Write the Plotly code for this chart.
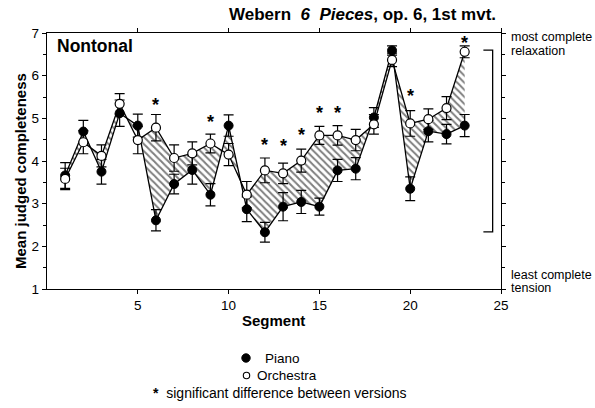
import plotly.graph_objects as go

segments = list(range(1, 24))
piano = [3.66, 4.69, 3.75, 5.12, 4.83, 2.61, 3.46, 3.79, 3.21, 4.83, 2.87, 2.33,
         2.93, 3.04, 2.93, 3.78, 3.82, 5.02, 6.59, 3.35, 4.70, 4.63, 4.83]
piano_err = [0.30, 0.26, 0.29, 0.31, 0.27, 0.25, 0.23, 0.33, 0.26, 0.25, 0.29, 0.23,
             0.33, 0.27, 0.20, 0.26, 0.26, 0.23, 0.11, 0.28, 0.25, 0.23, 0.26]
orchestra = [3.58, 4.44, 4.12, 5.34, 4.49, 4.78, 4.07, 4.18, 4.41, 4.15, 3.21, 3.78,
             3.71, 4.01, 4.60, 4.60, 4.49, 4.86, 6.37, 4.88, 4.98, 5.24, 6.56]
orch_err = [0.25, 0.27, 0.26, 0.24, 0.32, 0.31, 0.31, 0.27, 0.22, 0.26, 0.31, 0.29,
            0.24, 0.27, 0.21, 0.23, 0.25, 0.23, 0.16, 0.30, 0.24, 0.27, 0.14]
star_segments = [6, 9, 12, 13, 14, 15, 16, 20, 23]
star_y = [5.43, 5.03, 4.49, 4.47, 4.73, 5.24, 5.24, 5.64, 6.88]
x_ticks = [5, 10, 15, 20, 25]
y_ticks = [1, 2, 3, 4, 5, 6, 7]
bracket_x = [24.03, 24.54]
bracket_y = [2.34, 6.60]

FONT = "Liberation Sans, Arial, sans-serif"
W, H = 595, 408
ML, MR, MT, MB = 47, 94, 33, 119
PW, PH = W - ML - MR, H - MT - MB


def px(x):
    return (x - ML) / PW


def py(y):
    return (H - MB - y) / PH


fig = go.Figure()

fig.add_trace(go.Scatter(
    x=segments, y=piano, mode="lines+markers", name="Piano",
    line=dict(color="black", width=1.3),
    marker=dict(symbol="circle", size=9, color="black", line=dict(color="black", width=1)),
    error_y=dict(type="data", array=piano_err, color="black", thickness=1.2, width=5),
))
fig.add_trace(go.Scatter(
    x=segments, y=orchestra, mode="lines+markers", name="Orchestra",
    fill="tonexty", fillcolor="white",
    fillpattern=dict(shape="\\", size=5, solidity=0.4, fgcolor="black", bgcolor="white"),
    line=dict(color="black", width=1.3),
    marker=dict(symbol="circle", size=9, color="white", line=dict(color="black", width=1.2)),
    error_y=dict(type="data", array=orch_err, color="black", thickness=1.2, width=5),
))

for sx, sy in zip(star_segments, star_y):
    fig.add_annotation(x=sx, y=sy, text="<b>*</b>", showarrow=False, yshift=-5,
                       font=dict(family=FONT, size=18, color="black"))

# right bracket
fig.add_shape(type="path", xref="x", yref="y",
              path=f"M {bracket_x[0]},{bracket_y[1]} L {bracket_x[1]},{bracket_y[1]} "
                   f"L {bracket_x[1]},{bracket_y[0]} L {bracket_x[0]},{bracket_y[0]}",
              line=dict(color="black", width=1.3))

fig.add_annotation(x=px(55), y=py(45.7), xref="paper", yref="paper", xanchor="left",
                   yanchor="middle", text="<b>Nontonal</b>", showarrow=False,
                   font=dict(family=FONT, size=17.5, color="black"))

# title
fig.add_annotation(x=px(362.5), y=py(14), xref="paper", yref="paper", xanchor="center",
                   yanchor="middle", showarrow=False,
                   text="<b>Webern&nbsp; <i>6&nbsp; Pieces</i>, op. 6, 1st mvt.</b>",
                   font=dict(family=FONT, size=17, color="black"))

# axis titles
fig.add_annotation(x=px(20), y=py(171), xref="paper", yref="paper", xanchor="center",
                   yanchor="middle", textangle=-90, showarrow=False,
                   text="<b>Mean judged completeness</b>",
                   font=dict(family=FONT, size=15, color="black"))
fig.add_annotation(x=px(273.5), y=py(320.7), xref="paper", yref="paper", xanchor="center",
                   yanchor="middle", showarrow=False, text="<b>Segment</b>",
                   font=dict(family=FONT, size=15, color="black"))

# right side labels
for txt, yy in [("most complete", 37.3), ("relaxation", 50.7),
                ("least complete", 274.5), ("tension", 288)]:
    fig.add_annotation(x=px(508.5), y=py(yy), xref="paper", yref="paper", xanchor="left",
                       yanchor="middle", showarrow=False, text=txt,
                       font=dict(family=FONT, size=12.5, color="black"))

# legend-like key
fig.add_shape(type="circle", xref="paper", yref="paper", xsizemode="pixel", ysizemode="pixel",
              xanchor=px(246), yanchor=py(358), x0=-4.2, x1=4.2, y0=-4.2, y1=4.2,
              fillcolor="black", line=dict(color="black", width=1))
fig.add_shape(type="circle", xref="paper", yref="paper", xsizemode="pixel", ysizemode="pixel",
              xanchor=px(246.5), yanchor=py(375.5), x0=-3.2, x1=3.2, y0=-3.2, y1=3.2,
              fillcolor="white", line=dict(color="black", width=1.1))
fig.add_annotation(x=px(262.5), y=py(358), xref="paper", yref="paper", xanchor="left",
                   yanchor="middle", showarrow=False, text="Piano",
                   font=dict(family=FONT, size=13.5, color="black"))
fig.add_annotation(x=px(254.5), y=py(375.5), xref="paper", yref="paper", xanchor="left",
                   yanchor="middle", showarrow=False, text="Orchestra",
                   font=dict(family=FONT, size=13.5, color="black"))
fig.add_annotation(x=px(150.5), y=py(393), xref="paper", yref="paper", xanchor="left",
                   yanchor="middle", showarrow=False,
                   text="<b>*</b>&nbsp;&nbsp;significant difference between versions",
                   font=dict(family=FONT, size=14, color="black"))

fig.update_layout(
    width=W, height=H,
    margin=dict(l=ML, r=MR, t=MT, b=MB),
    paper_bgcolor="white", plot_bgcolor="white",
    showlegend=False, hovermode=False,
    font=dict(family=FONT, size=12, color="black"),
    xaxis=dict(range=[0, 25], tickvals=x_ticks, ticks="outside", ticklen=4, tickwidth=1,
               tickcolor="black", showline=True, linecolor="black", linewidth=1.2,
               mirror="ticks", showgrid=False, zeroline=False,
               tickfont=dict(family=FONT, size=13.5)),
    yaxis=dict(range=[1, 7], tickvals=y_ticks, ticks="outside", ticklen=4, tickwidth=1,
               tickcolor="black", showline=True, linecolor="black", linewidth=1.2,
               mirror="ticks", showgrid=False, zeroline=False,
               minor=dict(dtick=0.5, ticks="outside", ticklen=3, tickcolor="black"),
               tickfont=dict(family=FONT, size=13.5)),
)

fig.write_html("out.html", config={"displayModeBar": False, "staticPlot": True},
               post_script="document.body.style.margin='0px';"
                           "document.body.style.overflow='hidden';")
